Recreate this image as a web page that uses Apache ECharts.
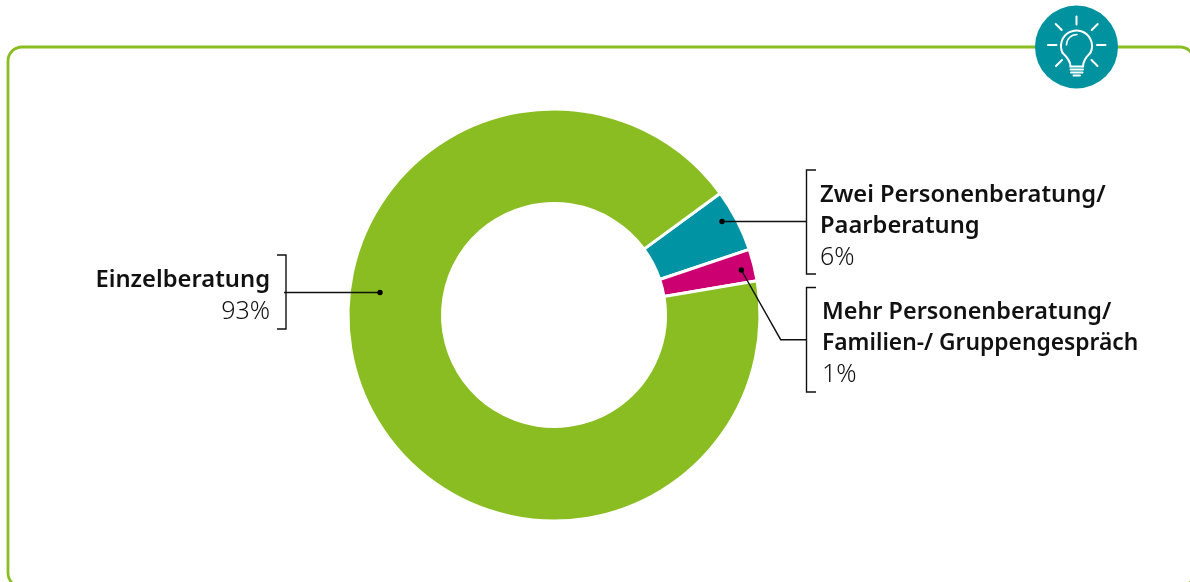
<!DOCTYPE html>
<html><head><meta charset="utf-8">
<style>html,body{margin:0;padding:0;background:#fff}#c{width:1190px;height:582px}</style>
<script src="https://cdn.jsdelivr.net/npm/echarts@6/dist/echarts.min.js"></script>
</head><body><div id="c"></div>
<script>
const categories = ['Zwei Personenberatung/\nPaarberatung', 'Mehr Personenberatung/\nFamilien-/ Gruppengespräch', 'Einzelberatung'];
const sliceValues = [4.9, 2.5, 92.6];
const percentLabels = ['6%', '1%', '93%'];
const sliceColors = ['#0093a4', '#cc0070', '#8abd21'];
const labelAnchors = [
  {x: 820, y: 180, align: 'left'},
  {x: 822, y: 297, align: 'left'},
  {x: 270, y: 265, align: 'right'}
];
const nameFontSizes = [[23.7, 23.7], [23.4, 22.8], [23.75]];

const GREEN = '#8abd21', TEAL = '#00939f', INK = '#111111';
const inkLine = {stroke: INK, lineWidth: 1.4, fill: null};
const poly = pts => ({type: 'polyline', silent: true, z: 20, shape: {points: pts}, style: inkLine});
const dot = (x, y) => ({type: 'circle', silent: true, z: 21, shape: {cx: x, cy: y, r: 2.7}, style: {fill: '#000'}});
const white = w => ({stroke: '#fff', lineWidth: w, fill: null, lineCap: 'round'});
const ray = (a, b, c, d) => ({type: 'line', silent: true, z: 22, shape: {x1: a, y1: b, x2: c, y2: d}, style: white(2)});
const nameStyle = size => ({fontFamily: '"Noto Sans"', fontWeight: 600, fontSize: size, lineHeight: 31, color: INK});

const rich = {r: {fontFamily: '"Noto Sans"', fontWeight: 300, fontSize: 25, lineHeight: 32, color: INK}};
nameFontSizes.forEach((sizes, i) => sizes.forEach((s, j) => { rich['n' + i + 'l' + j] = nameStyle(s); }));

const chart = echarts.init(document.getElementById('c'), null, {renderer: 'canvas'});
chart.setOption({
  animation: false,
  backgroundColor: '#fff',
  series: [{
    type: 'pie',
    center: [554, 315],
    radius: [111.5, 206],
    startAngle: 36.2,
    clockwise: true,
    silent: true,
    avoidLabelOverlap: false,
    itemStyle: {borderColor: '#fff', borderWidth: 3},
    labelLine: {show: false},
    label: {
      show: true,
      position: 'outside',
      formatter: p => {
        const name = p.name.split('\n').map((s, j) => '{n' + p.dataIndex + 'l' + j + '|' + s + '}').join('\n');
        return name + '\n{r|' + percentLabels[p.dataIndex] + '}';
      },
      rich
    },
    labelLayout: p => {
      const a = labelAnchors[p.dataIndex];
      return {x: a.x, y: a.y, align: a.align, verticalAlign: 'top'};
    },
    data: categories.map((name, i) => ({name, value: sliceValues[i], itemStyle: {color: sliceColors[i]}}))
  }],
  graphic: {elements: [
    {type: 'rect', silent: true, z: 1, shape: {x: 8, y: 47, width: 1186, height: 540, r: 14}, style: {fill: null, stroke: GREEN, lineWidth: 2.8}},
    poly([[277, 255], [286, 255], [286, 329], [277, 329]]),
    poly([[284, 292.5], [380, 292.5]]), dot(380, 292.5),
    poly([[816, 170], [806.5, 170], [806.5, 274], [816, 274]]),
    poly([[806.5, 221.5], [722, 221.5]]), dot(722, 221.5),
    poly([[816, 287.5], [806.5, 287.5], [806.5, 392], [816, 392]]),
    poly([[806.5, 339.7], [780.7, 339.7], [741.3, 270]]), dot(741.3, 270),
    {type: 'circle', silent: true, z: 11, shape: {cx: 1076.5, cy: 47, r: 41.5}, style: {fill: TEAL}},
    ray(1076.5, 16.5, 1076.5, 24.5), ray(1055.7, 24, 1061.7, 30), ray(1097.7, 24, 1091.7, 30),
    ray(1048, 45, 1056.5, 45), ray(1097, 45, 1105.5, 45),
    ray(1056, 66, 1062, 60), ray(1097.5, 66, 1091.5, 60),
    {type: 'arc', silent: true, z: 22, shape: {cx: 1076.5, cy: 46, r: 15.5, startAngle: Math.PI * 0.85, endAngle: Math.PI * 0.15, clockwise: true}, style: white(2)},
    {type: 'bezierCurve', silent: true, z: 22, shape: {x1: 1062.7, y1: 53, cpx1: 1067, cpy1: 57, x2: 1070.5, y2: 66.5, cpx2: 1070.5, cpy2: 62}, style: white(2)},
    {type: 'bezierCurve', silent: true, z: 22, shape: {x1: 1090.3, y1: 53, cpx1: 1086, cpy1: 57, x2: 1083, y2: 66.5, cpx2: 1083, cpy2: 62}, style: white(2)},
    {type: 'arc', silent: true, z: 22, shape: {cx: 1077, cy: 45, r: 10.5, startAngle: Math.PI, endAngle: Math.PI * 1.5, clockwise: true}, style: white(1.5)},
    ray(1070.5, 66.5, 1083, 66.5), ray(1070.5, 69.5, 1083, 69.5), ray(1071, 72.5, 1082.5, 72.5), ray(1073.5, 75.5, 1080, 75.5)
  ]}
});
</script></body></html>
